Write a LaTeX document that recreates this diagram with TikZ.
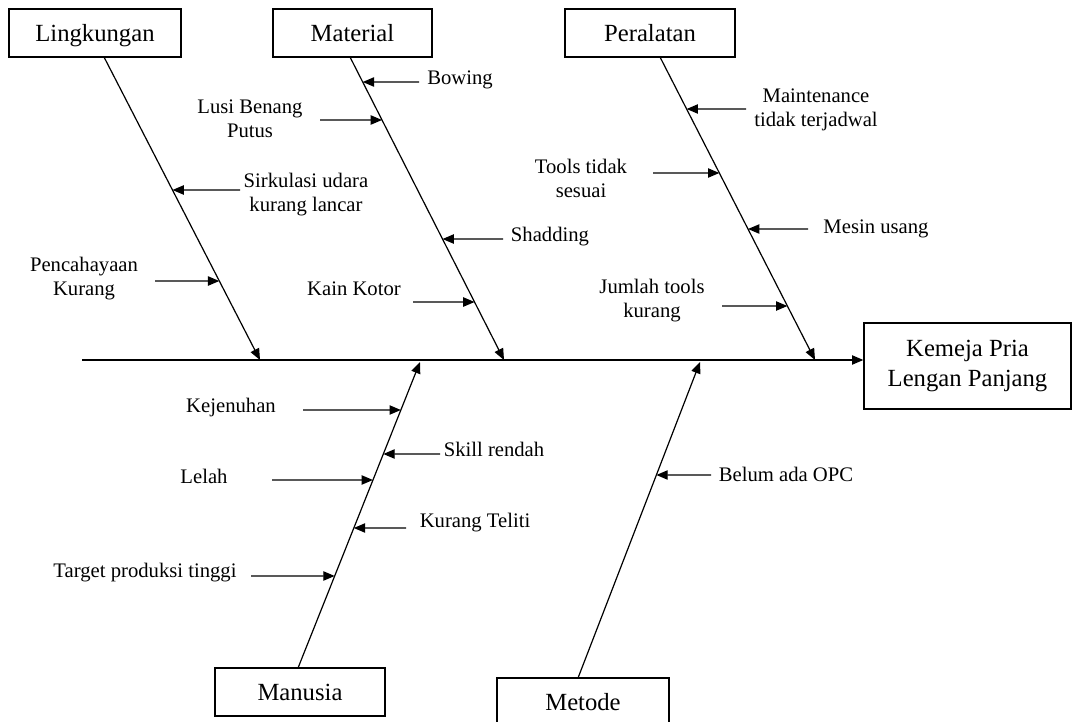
\documentclass[tikz,border=0pt]{standalone}
\usepackage{fontspec}
\setmainfont{Liberation Serif}
\usetikzlibrary{arrows.meta,calc}
\newcommand\bonetip[3]{\coordinate (#1) at (intersection cs: first line={(#2top)--(#2bot)}, second line={(0,#3)--(1000,#3)});}
\tikzset{
  boxbase/.style={draw, line width=1pt, inner sep=0pt, font=\fontsize{18.5}{22.5}\selectfont, align=center},
  catbox/.style={boxbase, minimum height=36pt, text height=14pt, text depth=2pt},
  lab/.style={inner sep=0pt, align=center, font=\fontsize{15.5}{18}\selectfont},
  bone/.style={line width=0.9pt, -{Triangle[length=8.5pt,width=7pt]}},
  arr/.style={line width=0.9pt, -{Triangle[length=8.5pt,width=7pt]}}
}
\begin{document}
\begin{tikzpicture}[x=0.75pt,y=-0.75pt]
\useasboundingbox (0,0) rectangle (1073,721);
% category boxes
\node[catbox, minimum width=129pt] (L) at (95,33) {Lingkungan};
\node[catbox, minimum width=119.25pt] (M) at (352.5,33) {Material};
\node[catbox, minimum width=127.5pt] (P) at (650,33) {Peralatan};
\node[catbox, minimum width=127.5pt] (H) at (300,692) {Manusia};
\node[catbox, minimum width=129pt] (E) at (583,702) {Metode};
\node[boxbase, minimum width=155.25pt, minimum height=64.5pt] (K) at (967.5,366) {Kemeja Pria\\Lengan Panjang};
% spine
\coordinate (spineL) at (82,360);
\draw[bone] (spineL) -- (spineL -| K.west);
% bones
\coordinate (Ltop) at (104,57); \coordinate (Lbot) at (260,360);
\coordinate (Mtop) at (350,57); \coordinate (Mbot) at (504,360);
\coordinate (Ptop) at (660,57); \coordinate (Pbot) at (815,360);
\coordinate (Htop) at (298,668); \coordinate (Hbot) at (420,362);
\coordinate (Etop) at (578,678); \coordinate (Ebot) at (700,362);
\draw[bone] (Ltop) -- (Lbot);
\draw[bone] (Mtop) -- (Mbot);
\draw[bone] (Ptop) -- (Pbot);
\draw[bone] (Htop) -- (Hbot);
\draw[bone] (Etop) -- (Ebot);
% labels
\node[lab] (l1) at (306,195) {Sirkulasi udara\\kurang lancar};
\node[lab] (l2) at (84,279) {Pencahayaan\\Kurang};
\node[lab] (m1) at (460,80) {Bowing};
\node[lab] (m2) at (250,119) {Lusi Benang\\Putus};
\node[lab] (m3) at (550,237) {Shadding};
\node[lab] (m4) at (354,289) {Kain Kotor};
\node[lab] (p1) at (816,110) {Maintenance\\tidak terjadwal};
\node[lab] (p2) at (581,178) {Tools tidak\\sesuai};
\node[lab] (p3) at (876,229) {Mesin usang};
\node[lab] (p4) at (652,301) {Jumlah tools\\kurang};
\node[lab] (h1) at (231,408) {Kejenuhan};
\node[lab] (h2) at (494,449) {Skill rendah};
\node[lab] (h3) at (204,476) {Lelah};
\node[lab] (h4) at (475,523) {Kurang Teliti};
\node[lab] (h5) at (145,573) {Target produksi tinggi};
\node[lab] (e1) at (786,474) {Belum ada OPC};
% arrow tails
\coordinate (l1s) at (240,190); \bonetip{l1t}{L}{190}
\coordinate (l2s) at (155,281); \bonetip{l2t}{L}{281}
\coordinate (m1s) at (419,82);  \bonetip{m1t}{M}{82}
\coordinate (m2s) at (320,120); \bonetip{m2t}{M}{120}
\coordinate (m3s) at (503,239); \bonetip{m3t}{M}{239}
\coordinate (m4s) at (413,302); \bonetip{m4t}{M}{302}
\coordinate (p1s) at (746,109); \bonetip{p1t}{P}{109}
\coordinate (p2s) at (653,173); \bonetip{p2t}{P}{173}
\coordinate (p3s) at (808,229); \bonetip{p3t}{P}{229}
\coordinate (p4s) at (722,306); \bonetip{p4t}{P}{306}
\coordinate (h1s) at (303,410); \bonetip{h1t}{H}{410}
\coordinate (h2s) at (440,454); \bonetip{h2t}{H}{454}
\coordinate (h3s) at (272,480); \bonetip{h3t}{H}{480}
\coordinate (h4s) at (406,528); \bonetip{h4t}{H}{528}
\coordinate (h5s) at (251,576); \bonetip{h5t}{H}{576}
\coordinate (e1s) at (711,475); \bonetip{e1t}{E}{475}
\foreach \a in {l1,l2,m1,m2,m3,m4,p1,p2,p3,p4,h1,h2,h3,h4,h5,e1}
  \draw[arr] (\a s) -- (\a t);
\end{tikzpicture}
\end{document}
